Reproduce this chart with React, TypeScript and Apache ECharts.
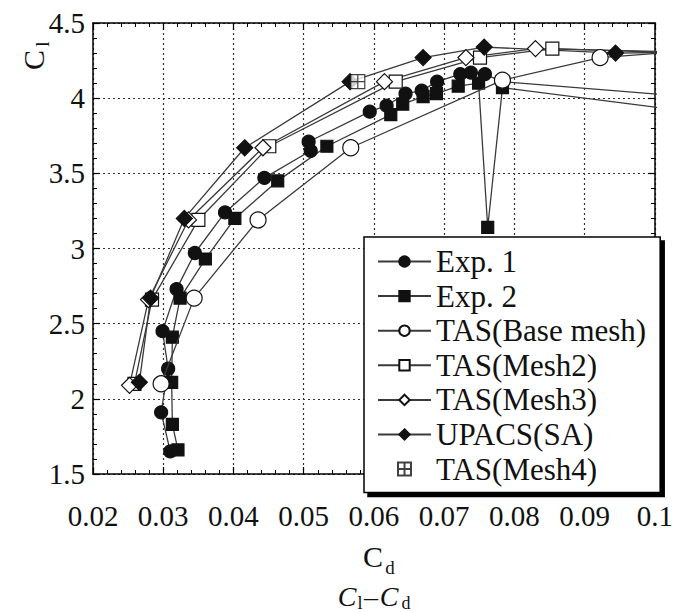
import React, { useEffect, useRef } from "react";
import * as echarts from "echarts";

const FONT = "'Liberation Serif', 'DejaVu Serif', serif";

// ---- data (Cd, Cl) ----
const exp1Cd = [0.031, 0.0297, 0.0307, 0.0299, 0.0319, 0.0345, 0.0388, 0.0444, 0.051, 0.0507, 0.0594, 0.0618, 0.0645, 0.0668, 0.069, 0.0723, 0.0738, 0.0758, 0.0782, 0.11];
const exp1Cl = [1.65, 1.91, 2.2, 2.45, 2.73, 2.97, 3.24, 3.47, 3.65, 3.71, 3.91, 3.95, 4.03, 4.05, 4.11, 4.16, 4.17, 4.16, 4.11, 3.99];

const exp2Cd = [0.0321, 0.0313, 0.0312, 0.0313, 0.0324, 0.036, 0.0402, 0.0463, 0.0533, 0.0624, 0.0641, 0.067, 0.0689, 0.072, 0.0749, 0.0762, 0.0783, 0.11];
const exp2Cl = [1.66, 1.83, 2.11, 2.41, 2.67, 2.93, 3.2, 3.45, 3.68, 3.89, 3.96, 4.01, 4.03, 4.08, 4.1, 3.14, 4.07, 3.88];

const tasBaseCd = [0.0297, 0.0344, 0.0435, 0.0567, 0.0783, 0.0922, 0.11];
const tasBaseCl = [2.1, 2.67, 3.19, 3.67, 4.12, 4.27, 4.33];

const mesh2Cd = [0.0259, 0.0284, 0.035, 0.0451, 0.0631, 0.0751, 0.0854, 0.11];
const mesh2Cl = [2.1, 2.66, 3.19, 3.68, 4.11, 4.27, 4.33, 4.29];

const mesh3Cd = [0.0252, 0.0279, 0.0336, 0.0442, 0.0615, 0.0731, 0.083, 0.11];
const mesh3Cl = [2.09, 2.66, 3.19, 3.67, 4.11, 4.27, 4.33, 4.3];

const upacsCd = [0.0266, 0.0282, 0.033, 0.0416, 0.0566, 0.067, 0.0757, 0.0944, 0.11];
const upacsCl = [2.11, 2.67, 3.2, 3.67, 4.11, 4.27, 4.34, 4.3, 4.31];

const mesh4Cd = [0.0577];
const mesh4Cl = [4.11];

const seriesNames = ["Exp. 1", "Exp. 2", "TAS(Base mesh)", "TAS(Mesh2)", "TAS(Mesh3)", "UPACS(SA)", "TAS(Mesh4)"];

const X_MIN = 0.02;
const X_MAX = 0.1;
const X_STEP = 0.01;
const Y_MIN = 1.5;
const Y_MAX = 4.5;
const Y_STEP = 0.5;

const zip = (xs: number[], ys: number[]) =>
  xs.map((x, i) => (x > X_MAX ? { value: [x, ys[i]], symbol: "none" } : [x, ys[i]]));

const LINE_COLOR = "#3a3a3a";
const INK = "#111";

function lineSeries(name: string, xs: number[], ys: number[], symbol: string, size: number, filled: boolean, z: number) {
  return {
    name,
    type: "line",
    xAxisIndex: 0,
    yAxisIndex: 0,
    data: zip(xs, ys),
    symbol,
    symbolSize: size,
    showSymbol: true,
    clip: true,
    z,
    lineStyle: { color: LINE_COLOR, width: 1.3 },
    itemStyle: { color: filled ? INK : "#fff", borderColor: INK, borderWidth: 1.2 },
    emphasis: { disabled: true },
  };
}

const axisCommon = {
  axisLine: { show: true, onZero: false, lineStyle: { color: "#000", width: 1.5 } },
  axisTick: { show: true, inside: true, length: 7, lineStyle: { color: "#000", width: 1.2 } },
  minorTick: { show: true, splitNumber: 5, length: 4, lineStyle: { color: "#000", width: 1 } },
};

export default function App() {
  const ref = useRef<HTMLDivElement>(null);

  useEffect(() => {
    document.body.style.margin = "0";
    const chart = echarts.init(ref.current as HTMLDivElement, null, { renderer: "svg" });

    const option: any = {
      animation: false,
      backgroundColor: "#fff",
      textStyle: { fontFamily: FONT },
      grid: { left: 93, right: 17, top: 23, bottom: 138, containLabel: false },
      xAxis: [
        {
          type: "value",
          min: X_MIN,
          max: X_MAX,
          interval: X_STEP,
          position: "bottom",
          ...axisCommon,
          splitLine: { show: true, lineStyle: { type: [2, 3], color: "#333", width: 1.2 } },
          axisLabel: { fontFamily: FONT, fontSize: 29, color: INK, margin: 27 },
        },
        {
          type: "value",
          min: X_MIN,
          max: X_MAX,
          interval: X_STEP,
          position: "top",
          ...axisCommon,
          splitLine: { show: false },
          axisLabel: { show: false },
        },
      ],
      yAxis: [
        {
          type: "value",
          min: Y_MIN,
          max: Y_MAX,
          interval: Y_STEP,
          position: "left",
          ...axisCommon,
          splitLine: { show: true, lineStyle: { type: [2, 3], color: "#333", width: 1.2 } },
          axisLabel: { fontFamily: FONT, fontSize: 29, color: INK, margin: 8 },
        },
        {
          type: "value",
          min: Y_MIN,
          max: Y_MAX,
          interval: Y_STEP,
          position: "right",
          ...axisCommon,
          splitLine: { show: false },
          axisLabel: { show: false },
        },
      ],
      legend: {
        orient: "vertical",
        left: 364,
        top: 237,
        itemWidth: 53,
        itemHeight: 13,
        itemGap: 3.6,
        padding: [9, 14, 8, 13],
        backgroundColor: "#fff",
        borderColor: "#000",
        borderWidth: 1.5,
        borderRadius: 0,
        shadowColor: "#000",
        shadowOffsetX: 4,
        shadowOffsetY: 4,
        shadowBlur: 0,
        selectedMode: false,
        textStyle: { fontFamily: FONT, fontSize: 31, color: INK, lineHeight: 29.5 },
        data: seriesNames,
      },
      series: [
        lineSeries(seriesNames[0], exp1Cd, exp1Cl, "circle", 13, true, 3),
        lineSeries(seriesNames[1], exp2Cd, exp2Cl, "rect", 12, true, 3),
        lineSeries(seriesNames[2], tasBaseCd, tasBaseCl, "circle", 16, false, 4),
        lineSeries(seriesNames[3], mesh2Cd, mesh2Cl, "rect", 13, false, 4),
        lineSeries(seriesNames[4], mesh3Cd, mesh3Cl, "diamond", 16, false, 4),
        lineSeries(seriesNames[5], upacsCd, upacsCl, "diamond", 16, true, 4),
        {
          name: seriesNames[6],
          type: "scatter",
          xAxisIndex: 0,
          yAxisIndex: 0,
          data: mesh4Cd.map((x, i) => [x, mesh4Cl[i]]),
          symbol: "path://M0 0H10V10H0Z M5 0V10 M0 5H10",
          symbolSize: 14,
          z: 5,
          itemStyle: { color: "#fff", borderColor: INK, borderWidth: 1.2 },
          emphasis: { disabled: true },
        },
      ],
      graphic: [
        // y-axis name  C_l (rotated)
        { type: "text", x: 33, y: 60, rotation: Math.PI / 2, style: { text: "C", fontFamily: FONT, fontSize: 30, fill: INK, align: "center", verticalAlign: "middle" } },
        { type: "text", x: 42, y: 44, rotation: Math.PI / 2, style: { text: "l", fontFamily: FONT, fontSize: 19, fill: INK, align: "center", verticalAlign: "middle" } },
        // x-axis name  C_d
        { type: "text", x: 373, y: 556, style: { text: "C", fontFamily: FONT, fontSize: 30, fill: INK, align: "center", verticalAlign: "middle" } },
        { type: "text", x: 390, y: 567, style: { text: "d", fontFamily: FONT, fontSize: 19, fill: INK, align: "center", verticalAlign: "middle" } },
        // caption  C_l–C_d
        { type: "text", x: 347, y: 596, style: { text: "C", fontFamily: FONT, fontSize: 28, fontStyle: "italic", fill: INK, align: "center", verticalAlign: "middle" } },
        { type: "text", x: 360, y: 603, style: { text: "l", fontFamily: FONT, fontSize: 18, fill: INK, align: "center", verticalAlign: "middle" } },
        { type: "text", x: 371, y: 596, style: { text: "–", fontFamily: FONT, fontSize: 28, fill: INK, align: "center", verticalAlign: "middle" } },
        { type: "text", x: 389, y: 596, style: { text: "C", fontFamily: FONT, fontSize: 28, fontStyle: "italic", fill: INK, align: "center", verticalAlign: "middle" } },
        { type: "text", x: 406, y: 603, style: { text: "d", fontFamily: FONT, fontSize: 18, fill: INK, align: "center", verticalAlign: "middle" } },
      ],
    };

    chart.setOption(option);
    return () => chart.dispose();
  }, []);

  return <div ref={ref} style={{ width: 676, height: 612 }} />;
}
